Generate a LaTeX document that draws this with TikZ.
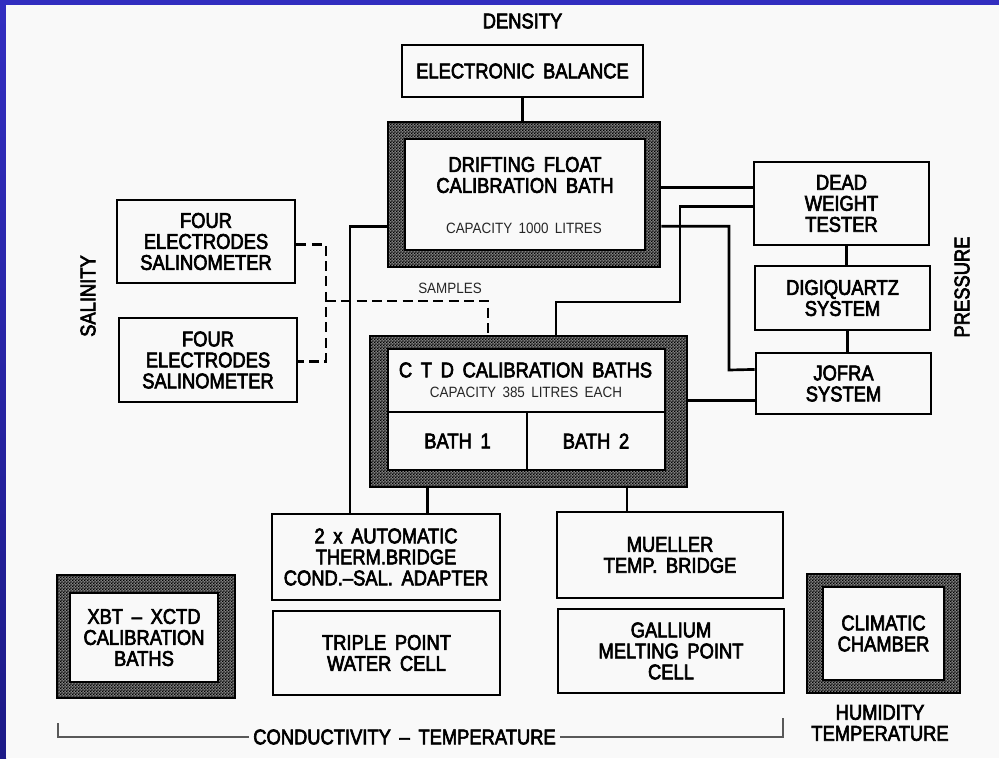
\documentclass[tikz,border=0pt]{standalone}
\usepackage{fontspec}
\newfontfamily\cadfont{Liberation Sans}[FakeStretch=0.86,WordSpace=1.7,FakeBold=3]
\newfontfamily\cadsmall{Liberation Sans}[FakeStretch=0.9,WordSpace=1.7]
\usetikzlibrary{patterns,calc}

\definecolor{frameblue}{RGB}{50,46,192}
\definecolor{framedark}{RGB}{28,26,135}
\definecolor{paper}{RGB}{249,249,249}

\pgfdeclarepatternformonly{checker}{\pgfpointorigin}{\pgfpoint{2.4pt}{2.4pt}}{\pgfpoint{2.4pt}{2.4pt}}{%
  \pgfpathrectangle{\pgfpointorigin}{\pgfpoint{1.2pt}{1.2pt}}%
  \pgfpathrectangle{\pgfpoint{1.2pt}{1.2pt}}{\pgfpoint{1.2pt}{1.2pt}}%
  \pgfusepath{fill}}

\tikzset{
  corners/.style n args={4}{at={({(#1+#3)/2},{(#2+#4)/2})},
     minimum width={(#3-#1)*0.75pt}, minimum height={(#4-#2)*0.75pt}},
  bigtxt/.style={font=\cadfont\fontsize{16}{15.75}\selectfont, align=center, text=black},
  smtxt/.style={font=\cadsmall\fontsize{11.2}{13}\selectfont, align=center, text=black!85},
  box/.style={draw=black, line width=2.2pt, fill=paper, inner sep=0pt, bigtxt},
  hatchbox/.style={draw=black, line width=2.2pt, preaction={fill=black!50}, pattern=checker, pattern color=black, inner sep=0pt},
  wire/.style={draw=black, line width=2pt},
  dwire/.style={draw=black, line width=1.8pt, dash pattern=on 7.5pt off 4pt},
  thinline/.style={draw=black!65, line width=0.8pt}
}

\begin{document}
\begin{tikzpicture}[x=0.75pt,y=-0.75pt]
\useasboundingbox (0,0) rectangle (999,758);
% frame and paper
\fill[frameblue] (0,0) rectangle (999,758);
\shade[top color=frameblue, bottom color=framedark] (0,5) rectangle (6,758);
\fill[paper] (6,5) rectangle (999,758);

% density
\node[bigtxt] (density) at (522.5,21) {DENSITY};
\node[box, corners={402}{45}{643}{97}] (eb) {ELECTRONIC BALANCE};

% drifting float bath
\node[hatchbox, corners={388}{122}{660}{267}] (float) {};
\node[box, corners={405}{139}{645}{250}] (floatin) {};
\node[bigtxt] (floattitle) at (525,175) {DRIFTING FLOAT\\CALIBRATION BATH};
\node[smtxt] (floatcap) at (524,228) {CAPACITY 1000 LITRES};

% pressure
\node[box, corners={754}{162}{929}{245}] (dwt) {DEAD\\WEIGHT\\TESTER};
\node[box, corners={755}{266}{930}{330}] (digi) {DIGIQUARTZ\\SYSTEM};
\node[box, corners={756}{353}{931}{414}] (jofra) {JOFRA\\SYSTEM};
\node[bigtxt, rotate=90] (press) at (962,287) {PRESSURE};

% salinity
\node[box, corners={117}{200}{295}{283}] (sal1) {FOUR\\ELECTRODES\\SALINOMETER};
\node[box, corners={119}{318}{297}{402}] (sal2) {FOUR\\ELECTRODES\\SALINOMETER};
\node[bigtxt, rotate=90] (salinity) at (88,296) {SALINITY};
\node[smtxt] (samples) at (450,288) {SAMPLES};

% CTD baths
\node[hatchbox, corners={370}{336}{687}{487}] (ctd) {};
\node[box, corners={388}{349}{665}{470}] (ctdin) {};
\node[box, corners={388}{412}{527}{470}] (bath1) {BATH 1};
\node[box, corners={527}{412}{665}{470}] (bath2) {BATH 2};
\node[bigtxt] (ctdtitle) at (525.5,370) {C T D CALIBRATION BATHS};
\node[smtxt] (ctdcap) at (526,392) {CAPACITY 385 LITRES EACH};

% lower boxes
\node[box, corners={272}{514}{500}{600}] (autob) {2 x AUTOMATIC\\THERM.BRIDGE\\COND.–SAL. ADAPTER};
\node[box, corners={273}{611}{500}{695}] (triple) {TRIPLE POINT\\WATER CELL};
\node[box, corners={557}{512}{783}{598}] (mueller) {MUELLER\\TEMP. BRIDGE};
\node[box, corners={558}{609}{784}{693}] (gallium) {GALLIUM\\MELTING POINT\\CELL};

\node[hatchbox, corners={807}{574}{960}{693}] (clim) {};
\node[box, corners={823}{587}{944}{680}] (climin) {CLIMATIC\\CHAMBER};
\node[bigtxt] (humid) at (880,723) {HUMIDITY\\TEMPERATURE};

\node[hatchbox, corners={57}{575}{235}{698}] (xbt) {};
\node[box, corners={70}{593}{218}{682}] (xbtin) {XBT – XCTD\\CALIBRATION\\BATHS};

\node[bigtxt] (cond) at (404.5,737) {CONDUCTIVITY – TEMPERATURE};

% helper coordinates
\coordinate (b1) at (680,302);
\coordinate (b2) at (556,336);
\coordinate (b3) at (729,370);
\coordinate (j1) at (326,301);
\coordinate (s2) at (488,334);
\coordinate (bl) at (58,723);
\coordinate (br) at (783,718);

% connectors
\draw[wire] (eb.south) -- (eb.south |- float.north);
\draw[wire] (dwt.170.6) -- (dwt.170.6 -| float.east);
\draw[wire] (dwt.182.3) -| (b1) -| (b2);
\draw[wire] (float.347.4) -| (b3) -- (jofra.171.2);
\draw[wire] (jofra.191.3) -- (jofra.191.3 -| ctd.east);
\draw[wire] (dwt.277.5) -- (dwt.277.5 |- digi.north);
\draw[wire] (digi.278) -- (digi.278 |- jofra.north);
\draw[wire] (float.193.4) -| (autob.129.1);
\draw[wire] (autob.47.8) -- (autob.47.8 |- ctd.south);
\draw[wire] (mueller.134.3) -- (mueller.134.3 |- ctd.south);

\draw[dwire] (sal1.-2.9) -| (j1) |- (sal2.-1.9);
\draw[dwire] (j1) -| (s2);

\draw[thinline] (bl) |- (cond.west);
\draw[thinline] (cond.east) -| (br);
\end{tikzpicture}
\end{document}
